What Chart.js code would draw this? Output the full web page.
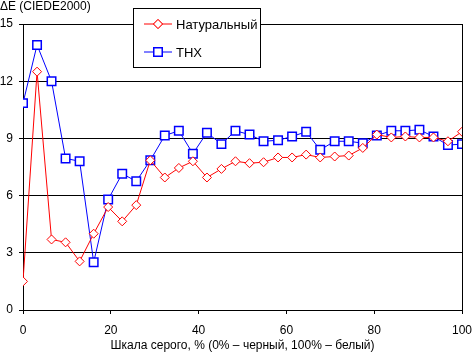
<!DOCTYPE html>
<html>
<head>
<meta charset="utf-8">
<script src="https://cdn.jsdelivr.net/npm/chart.js@4/dist/chart.umd.min.js"></script>
<style>
  html, body { margin: 0; padding: 0; background: #fff; }
</style>
</head>
<body>
<canvas id="chart" width="472" height="353"></canvas>
<script>
// grey level, % (32 steps)
const grayLevels = [0, 3.2, 6.5, 9.7, 12.9, 16.1, 19.4, 22.6, 25.8, 29.0, 32.3, 35.5, 38.7, 41.9, 45.2, 48.4,
  51.6, 54.8, 58.1, 61.3, 64.5, 67.7, 71.0, 74.2, 77.4, 80.6, 83.9, 87.1, 90.3, 93.5, 96.8, 100];

const naturalValues = [1.5, 12.5, 3.7, 3.55, 2.55, 4.0, 5.4, 4.65, 5.5, 7.85, 6.95, 7.45, 7.8, 6.95, 7.4, 7.8,
  7.7, 7.75, 8.0, 8.0, 8.15, 8.0, 8.05, 8.1, 8.5, 9.2, 9.05, 9.1, 9.05, 9.05, 8.85, 9.35];

const thxValues = [10.85, 13.9, 12.0, 7.95, 7.8, 2.5, 5.8, 7.15, 6.75, 7.85, 9.15, 9.4, 8.2, 9.3, 8.7, 9.4,
  9.2, 8.85, 8.9, 9.1, 9.35, 8.4, 8.85, 8.85, 8.75, 9.15, 9.4, 9.4, 9.45, 9.1, 8.65, 8.7];

const seriesNames = ['Натуральный', 'THX'];
const yTicks = [0, 3, 6, 9, 12, 15];
const xTicks = [0, 20, 40, 60, 80, 100];

const FONT = 'Arial, "Liberation Sans", sans-serif';

function toPoints(values) {
  return values.map((v, i) => ({ x: grayLevels[i], y: v }));
}

// y-axis caption, right border and legend box
const extras = {
  id: 'extras',
  afterDraw(chart) {
    const ctx = chart.ctx;
    const area = chart.chartArea;
    ctx.save();

    ctx.strokeStyle = '#000';
    ctx.lineWidth = 1;
    ctx.beginPath();
    ctx.moveTo(Math.round(area.right) + 0.5, area.top);
    ctx.lineTo(Math.round(area.right) + 0.5, area.bottom);
    ctx.stroke();

    ctx.fillStyle = '#000';
    ctx.font = '12px ' + FONT;
    ctx.textBaseline = 'middle';
    ctx.textAlign = 'left';
    ctx.fillText('ΔE (CIEDE2000)', 0, 7);

    // legend
    const lx = 133.5, ly = 8.5, lw = 127, lh = 59;
    ctx.fillStyle = '#fff';
    ctx.fillRect(lx, ly, lw, lh);
    ctx.strokeRect(lx, ly, lw, lh);

    chart.data.datasets.forEach((ds, i) => {
      const y = 24 + i * 28;
      ctx.strokeStyle = ds.borderColor;
      ctx.lineWidth = 1;
      ctx.beginPath();
      ctx.moveTo(144, y);
      ctx.lineTo(172, y);
      ctx.stroke();
      ctx.lineWidth = ds.pointBorderWidth;
      ctx.fillStyle = '#fff';
      Chart.helpers.drawPoint(ctx, { pointStyle: ds.pointStyle, radius: ds.pointRadius, borderWidth: ds.pointBorderWidth }, 158, y);
      ctx.fill();
      ctx.stroke();
      ctx.fillStyle = '#000';
      ctx.font = '13px ' + FONT;
      ctx.fillText(ds.label, 176, y + 1);
    });
    ctx.restore();
  }
};

const config = {
  type: 'line',
  data: {
    datasets: [
      {
        label: seriesNames[0],
        data: toPoints(naturalValues),
        borderColor: '#ff0000',
        borderWidth: 1,
        pointStyle: 'rectRot',
        pointRadius: 4.5,
        pointBorderWidth: 1,
        pointBackgroundColor: '#fff',
        pointBorderColor: '#ff0000',
        tension: 0,
      },
      {
        label: seriesNames[1],
        data: toPoints(thxValues),
        borderColor: '#0000ff',
        borderWidth: 1,
        pointStyle: 'rect',
        pointRadius: 6,
        pointBorderWidth: 1.5,
        pointBackgroundColor: '#fff',
        pointBorderColor: '#0000ff',
        tension: 0,
      },
    ],
  },
  options: {
    responsive: false,
    animation: false,
    layout: { padding: { top: 24, right: 10, left: 0, bottom: 0 } },
    scales: {
      x: {
        type: 'linear',
        min: 0,
        max: 100,
        afterBuildTicks: (scale) => { scale.ticks = xTicks.map(v => ({ value: v })); },
        afterFit: (scale) => { scale.height = 43; scale.paddingRight = 0; scale.paddingLeft = 0; },
        ticks: {
          color: '#000',
          font: { size: 12, family: FONT },
          padding: 9,
          maxRotation: 0,
        },
        grid: {
          drawOnChartArea: false,
          drawTicks: true,
          tickLength: 4,
          color: '#000',
        },
        border: { color: '#000' },
        title: {
          display: true,
          text: 'Шкала серого, % (0% – черный, 100% – белый)',
          color: '#000',
          font: { size: 12, family: FONT },
          padding: { top: 0, bottom: 0 },
        },
      },
      y: {
        min: 0,
        max: 15,
        afterBuildTicks: (scale) => { scale.ticks = yTicks.map(v => ({ value: v })); },
        afterFit: (scale) => { scale.width = 23; scale.paddingTop = 0; scale.paddingBottom = 0; },
        ticks: {
          color: '#000',
          font: { size: 12, family: FONT },
          padding: 6,
        },
        grid: {
          color: '#000',
          tickLength: 4,
        },
        border: { color: '#000' },
      },
    },
    plugins: {
      legend: { display: false },
      tooltip: { enabled: false },
    },
  },
  plugins: [extras],
};

new Chart(document.getElementById('chart'), config);
</script>
</body>
</html>
